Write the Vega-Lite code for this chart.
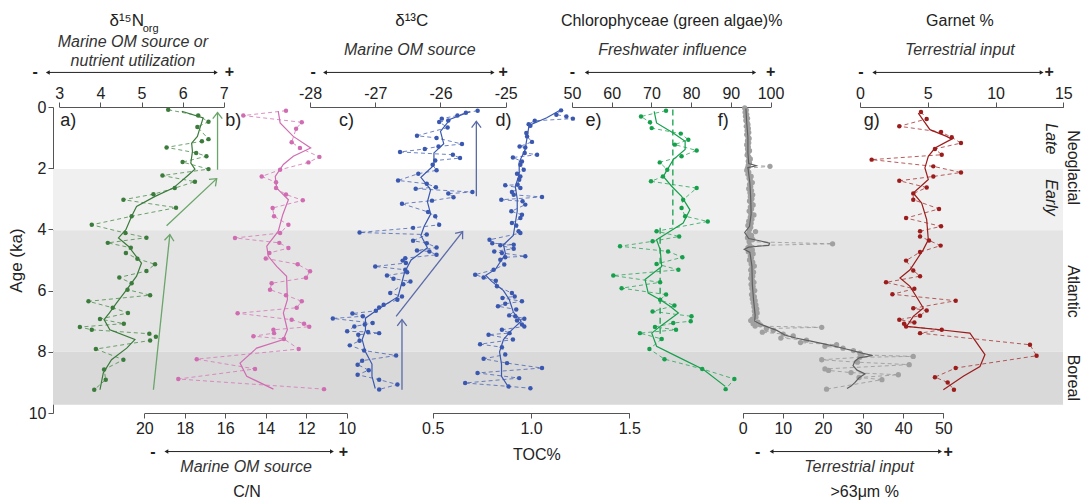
{
"$schema":"https://vega.github.io/schema/vega-lite/v6.json",
"width":1010,"height":306,
"autosize":{"type":"none"},
"padding":{"left":53,"top":107,"right":22,"bottom":87},
"background":"white",
"config":{"view":{"stroke":null},"font":"Liberation Sans",
 "axis":{"grid":false,"domainColor":"#555","tickColor":"#555","labelColor":"#222","labelFont":"Liberation Sans","labelFontSize":16,"tickSize":5,"labelFlush":false,"labelOverlap":false,"titleFont":"Liberation Sans","titleFontWeight":"normal","titleColor":"#222"},
 "axisTop":{"labelPadding":1},"axisBottom":{"labelPadding":2},
 "text":{"font":"Liberation Sans","fontSize":16,"baseline":"middle","align":"center","color":"#222"}},
"datasets":{
"one":[{"k":1}],
"zones":[{"zone":"early","start":2.03,"end":4.03},{"zone":"atlantic","start":4.03,"end":8.0},{"zone":"boreal","start":8.0,"end":9.73}],
"zlab":[{"name":"Neoglacial","mid":1.98},{"name":"Atlantic","mid":6.03},{"name":"Boreal","mid":8.85}],
"slab":[{"name":"Late","mid":1.04},{"name":"Early","mid":2.96}],
"n15":[{"age":0.09,"v":5.65},{"age":0.28,"v":6.38},{"age":0.48,"v":6.63},{"age":0.65,"v":6.36},{"age":1.05,"v":6.63},{"age":1.12,"v":6.47},{"age":1.32,"v":5.61},{"age":1.5,"v":6.33},{"age":1.61,"v":6.58},{"age":1.8,"v":6.0},{"age":2.03,"v":6.63},{"age":2.24,"v":5.51},{"age":2.44,"v":6.3},{"age":2.65,"v":5.81},{"age":2.85,"v":5.29},{"age":3.03,"v":4.56},{"age":3.29,"v":5.84},{"age":3.57,"v":4.76},{"age":3.85,"v":3.79},{"age":4.12,"v":4.61},{"age":4.27,"v":5.12},{"age":4.44,"v":4.18},{"age":4.6,"v":4.74},{"age":4.77,"v":4.62},{"age":4.96,"v":4.9},{"age":5.14,"v":5.33},{"age":5.36,"v":5.12},{"age":5.57,"v":4.46},{"age":5.76,"v":4.76},{"age":5.97,"v":4.66},{"age":6.15,"v":5.21},{"age":6.35,"v":3.71},{"age":6.56,"v":4.3},{"age":6.73,"v":4.67},{"age":6.93,"v":3.99},{"age":7.08,"v":4.57},{"age":7.19,"v":3.5},{"age":7.28,"v":3.79},{"age":7.41,"v":5.19},{"age":7.51,"v":5.35},{"age":7.63,"v":5.21},{"age":7.91,"v":3.89},{"age":8.26,"v":4.56},{"age":8.58,"v":4.09},{"age":8.91,"v":4.13},{"age":9.24,"v":3.85}],
"n15s":[{"age":0.14,"v":5.98},{"age":0.36,"v":6.5},{"age":0.74,"v":6.41},{"age":0.96,"v":6.36},{"age":1.18,"v":6.22},{"age":1.45,"v":6.24},{"age":1.83,"v":6.2},{"age":2.03,"v":6.3},{"age":2.27,"v":6.1},{"age":2.65,"v":5.77},{"age":2.92,"v":5.33},{"age":3.25,"v":4.88},{"age":3.57,"v":4.76},{"age":4.01,"v":4.62},{"age":4.28,"v":4.44},{"age":4.55,"v":4.68},{"age":4.88,"v":4.87},{"age":5.1,"v":5.0},{"age":5.53,"v":4.88},{"age":5.97,"v":4.64},{"age":6.41,"v":4.39},{"age":6.73,"v":4.22},{"age":6.95,"v":4.09},{"age":7.28,"v":4.23},{"age":7.6,"v":4.84},{"age":7.88,"v":4.64},{"age":8.26,"v":4.27},{"age":8.69,"v":4.07},{"age":9.24,"v":3.99}],
"n15arr":[{"id":1,"x1":5.29,"a1":9.24,"x2":5.69,"a2":4.17},{"id":2,"x1":5.61,"a1":3.88,"x2":6.83,"a2":2.34},{"id":3,"x1":6.85,"a1":2.05,"x2":6.85,"a2":0.18}],
"cn":[{"age":0.12,"v":13.0},{"age":0.28,"v":15.11},{"age":0.5,"v":12.22},{"age":0.71,"v":12.5},{"age":1.15,"v":12.72},{"age":1.34,"v":12.31},{"age":1.63,"v":11.35},{"age":1.81,"v":11.89},{"age":2.05,"v":13.29},{"age":2.27,"v":14.2},{"age":2.46,"v":13.49},{"age":2.65,"v":13.49},{"age":2.86,"v":13.0},{"age":3.05,"v":12.17},{"age":3.3,"v":13.66},{"age":3.57,"v":13.59},{"age":3.85,"v":12.88},{"age":4.12,"v":13.29},{"age":4.28,"v":15.52},{"age":4.44,"v":13.33},{"age":4.61,"v":12.88},{"age":4.77,"v":13.82},{"age":4.95,"v":14.0},{"age":5.14,"v":12.42},{"age":5.37,"v":11.81},{"age":5.58,"v":12.01},{"age":5.76,"v":13.71},{"age":5.97,"v":13.79},{"age":6.15,"v":13.0},{"age":6.35,"v":12.22},{"age":6.56,"v":12.47},{"age":6.74,"v":15.39},{"age":6.95,"v":12.72},{"age":7.08,"v":12.11},{"age":7.18,"v":11.85},{"age":7.28,"v":13.62},{"age":7.39,"v":13.59},{"age":7.49,"v":14.61},{"age":7.58,"v":13.1},{"age":7.91,"v":12.37},{"age":8.24,"v":17.41},{"age":8.56,"v":14.53},{"age":8.89,"v":18.32},{"age":9.22,"v":11.12}],
"cns":[{"age":0.14,"v":13.38},{"age":0.52,"v":13.29},{"age":0.96,"v":12.64},{"age":1.34,"v":11.78},{"age":1.61,"v":12.64},{"age":1.88,"v":13.13},{"age":2.27,"v":13.53},{"age":2.65,"v":13.46},{"age":3.03,"v":12.88},{"age":3.52,"v":13.16},{"age":4.06,"v":13.38},{"age":4.55,"v":13.95},{"age":4.88,"v":13.87},{"age":5.21,"v":13.46},{"age":5.53,"v":12.97},{"age":6.3,"v":12.93},{"age":6.73,"v":13.13},{"age":7.28,"v":12.93},{"age":7.6,"v":13.13},{"age":7.88,"v":14.45},{"age":8.37,"v":15.27},{"age":8.8,"v":14.94},{"age":9.22,"v":13.62}],
"c13":[{"age":0.12,"v":-25.43},{"age":0.19,"v":-25.61},{"age":0.28,"v":-25.74},{"age":0.38,"v":-25.98},{"age":0.44,"v":-25.88},{"age":0.49,"v":-26.02},{"age":0.67,"v":-25.89},{"age":0.94,"v":-26.36},{"age":1.01,"v":-26.06},{"age":1.21,"v":-25.67},{"age":1.29,"v":-26.03},{"age":1.37,"v":-26.24},{"age":1.47,"v":-26.62},{"age":1.56,"v":-25.81},{"age":1.67,"v":-25.7},{"age":1.75,"v":-26.08},{"age":1.89,"v":-26.12},{"age":2.07,"v":-26.06},{"age":2.18,"v":-26.34},{"age":2.4,"v":-26.65},{"age":2.51,"v":-26.21},{"age":2.62,"v":-26.07},{"age":2.67,"v":-26.38},{"age":2.78,"v":-25.51},{"age":2.83,"v":-25.88},{"age":2.95,"v":-25.8},{"age":3.06,"v":-26.13},{"age":3.16,"v":-26.59},{"age":3.43,"v":-26.19},{"age":3.57,"v":-26.08},{"age":3.85,"v":-26.02},{"age":3.95,"v":-26.42},{"age":4.1,"v":-27.24},{"age":4.17,"v":-26.21},{"age":4.37,"v":-26.42},{"age":4.45,"v":-26.21},{"age":4.59,"v":-26.06},{"age":4.69,"v":-26.36},{"age":4.72,"v":-26.17},{"age":4.83,"v":-26.06},{"age":4.94,"v":-26.54},{"age":5.02,"v":-26.58},{"age":5.1,"v":-26.53},{"age":5.21,"v":-27.0},{"age":5.32,"v":-26.54},{"age":5.4,"v":-26.51},{"age":5.51,"v":-26.82},{"age":5.61,"v":-26.72},{"age":5.7,"v":-26.46},{"age":5.79,"v":-26.57},{"age":6.08,"v":-26.77},{"age":6.19,"v":-26.59},{"age":6.3,"v":-26.66},{"age":6.46,"v":-26.87},{"age":6.55,"v":-26.94},{"age":6.66,"v":-26.99},{"age":6.75,"v":-27.35},{"age":6.84,"v":-27.19},{"age":6.91,"v":-27.65},{"age":7.06,"v":-27.04},{"age":7.11,"v":-27.16},{"age":7.17,"v":-27.32},{"age":7.33,"v":-27.43},{"age":7.35,"v":-27.11},{"age":7.39,"v":-26.94},{"age":7.44,"v":-27.26},{"age":7.64,"v":-27.24},{"age":7.79,"v":-27.39},{"age":7.96,"v":-27.17},{"age":8.12,"v":-26.68},{"age":8.29,"v":-27.2},{"age":8.42,"v":-27.27},{"age":8.6,"v":-27.1},{"age":8.75,"v":-27.27},{"age":8.91,"v":-26.94},{"age":9.07,"v":-26.66},{"age":9.23,"v":-26.94}],
"c13s":[{"age":0.15,"v":-25.55},{"age":0.4,"v":-25.85},{"age":0.8,"v":-26.0},{"age":1.2,"v":-25.95},{"age":1.5,"v":-26.1},{"age":1.9,"v":-26.1},{"age":2.3,"v":-26.3},{"age":2.7,"v":-26.15},{"age":3.1,"v":-26.2},{"age":3.5,"v":-26.15},{"age":3.9,"v":-26.25},{"age":4.2,"v":-26.3},{"age":4.6,"v":-26.2},{"age":5.0,"v":-26.45},{"age":5.4,"v":-26.55},{"age":5.8,"v":-26.6},{"age":6.2,"v":-26.65},{"age":6.6,"v":-26.95},{"age":6.9,"v":-27.15},{"age":7.3,"v":-27.15},{"age":7.6,"v":-27.2},{"age":8.0,"v":-27.15},{"age":8.4,"v":-27.05},{"age":8.8,"v":-27.05},{"age":9.2,"v":-27.0}],
"c13arr":[{"id":1,"x1":-26.59,"a1":9.24,"x2":-26.59,"a2":6.95},{"id":2,"x1":-26.68,"a1":6.84,"x2":-25.66,"a2":4.07},{"id":3,"x1":-25.45,"a1":2.92,"x2":-25.45,"a2":0.47}],
"toc":[{"age":0.11,"v":1.153},{"age":0.25,"v":1.129},{"age":0.31,"v":1.18},{"age":0.38,"v":1.213},{"age":0.45,"v":1.019},{"age":0.56,"v":0.988},{"age":0.61,"v":0.997},{"age":0.85,"v":0.976},{"age":0.96,"v":0.98},{"age":1.14,"v":1.005},{"age":1.29,"v":0.942},{"age":1.32,"v":0.971},{"age":1.5,"v":0.968},{"age":1.56,"v":1.031},{"age":1.65,"v":0.908},{"age":1.78,"v":0.954},{"age":1.89,"v":0.946},{"age":2.05,"v":0.963},{"age":2.18,"v":0.929},{"age":2.27,"v":0.946},{"age":2.38,"v":0.94},{"age":2.54,"v":0.932},{"age":2.56,"v":0.869},{"age":2.65,"v":0.946},{"age":2.78,"v":0.903},{"age":2.87,"v":0.912},{"age":2.94,"v":1.056},{"age":3.03,"v":0.849},{"age":3.08,"v":0.957},{"age":3.19,"v":0.971},{"age":3.41,"v":0.9},{"age":3.52,"v":0.954},{"age":3.63,"v":0.946},{"age":3.79,"v":0.903},{"age":3.87,"v":0.925},{"age":4.06,"v":0.937},{"age":4.12,"v":0.946},{"age":4.34,"v":0.789},{"age":4.45,"v":0.803},{"age":4.5,"v":0.912},{"age":4.52,"v":0.844},{"age":4.63,"v":0.912},{"age":4.72,"v":0.813},{"age":4.77,"v":0.852},{"age":4.88,"v":0.971},{"age":4.91,"v":0.869},{"age":4.99,"v":0.844},{"age":5.15,"v":0.864},{"age":5.32,"v":0.81},{"age":5.48,"v":0.716},{"age":5.57,"v":0.759},{"age":5.68,"v":0.821},{"age":5.86,"v":0.827},{"age":6.08,"v":0.903},{"age":6.19,"v":0.917},{"age":6.24,"v":0.855},{"age":6.35,"v":0.954},{"age":6.43,"v":0.869},{"age":6.51,"v":0.832},{"age":6.62,"v":0.925},{"age":6.81,"v":0.889},{"age":6.84,"v":0.92},{"age":6.92,"v":0.966},{"age":6.98,"v":0.929},{"age":7.11,"v":0.954},{"age":7.17,"v":0.966},{"age":7.28,"v":0.852},{"age":7.39,"v":0.891},{"age":7.44,"v":0.784},{"age":7.6,"v":0.908},{"age":7.75,"v":0.741},{"age":7.85,"v":0.852},{"age":8.09,"v":0.869},{"age":8.23,"v":0.759},{"age":8.37,"v":0.878},{"age":8.53,"v":1.056},{"age":8.69,"v":0.728},{"age":8.86,"v":0.94},{"age":9.02,"v":0.665},{"age":9.13,"v":0.886},{"age":9.19,"v":0.997}],
"tocs":[{"age":0.1,"v":1.15},{"age":0.35,"v":1.08},{"age":0.6,"v":0.99},{"age":1.0,"v":0.98},{"age":1.4,"v":0.97},{"age":1.8,"v":0.94},{"age":2.2,"v":0.94},{"age":2.6,"v":0.92},{"age":3.0,"v":0.93},{"age":3.4,"v":0.93},{"age":3.8,"v":0.92},{"age":4.2,"v":0.91},{"age":4.5,"v":0.86},{"age":4.8,"v":0.87},{"age":5.0,"v":0.85},{"age":5.3,"v":0.82},{"age":5.5,"v":0.77},{"age":5.7,"v":0.8},{"age":6.0,"v":0.86},{"age":6.3,"v":0.89},{"age":6.7,"v":0.91},{"age":7.0,"v":0.95},{"age":7.3,"v":0.9},{"age":7.6,"v":0.86},{"age":8.0,"v":0.84},{"age":8.4,"v":0.85},{"age":8.8,"v":0.85},{"age":9.2,"v":0.89}],
"chl":[{"age":0.12,"v":73.68},{"age":0.31,"v":67.38},{"age":0.5,"v":69.65},{"age":0.69,"v":70.07},{"age":0.87,"v":77.4},{"age":1.07,"v":79.3},{"age":1.23,"v":75.9},{"age":1.42,"v":81.4},{"age":1.61,"v":77.6},{"age":1.81,"v":72.1},{"age":2.05,"v":74.0},{"age":2.27,"v":72.9},{"age":2.43,"v":69.9},{"age":2.65,"v":81.4},{"age":3.03,"v":78.0},{"age":3.3,"v":77.6},{"age":3.57,"v":78.5},{"age":3.74,"v":84.2},{"age":4.06,"v":71.3},{"age":4.23,"v":77.0},{"age":4.39,"v":70.3},{"age":4.55,"v":62.1},{"age":4.72,"v":74.2},{"age":4.91,"v":77.8},{"age":5.13,"v":71.3},{"age":5.32,"v":76.8},{"age":5.51,"v":60.4},{"age":5.73,"v":72.2},{"age":5.92,"v":62.5},{"age":6.13,"v":73.7},{"age":6.3,"v":72.2},{"age":6.49,"v":75.8},{"age":6.68,"v":70.3},{"age":6.84,"v":80.1},{"age":7.0,"v":79.9},{"age":7.06,"v":75.5},{"age":7.19,"v":70.9},{"age":7.28,"v":76.2},{"age":7.39,"v":67.1},{"age":7.58,"v":72.6},{"age":7.91,"v":69.5},{"age":8.24,"v":73.3},{"age":8.56,"v":82.8},{"age":8.89,"v":90.9},{"age":9.22,"v":88.7}],
"chls":[{"age":0.14,"v":70.7},{"age":0.52,"v":71.3},{"age":0.85,"v":75.5},{"age":1.12,"v":78.5},{"age":1.39,"v":78.5},{"age":1.72,"v":75.5},{"age":2.27,"v":73.0},{"age":2.59,"v":75.1},{"age":2.92,"v":77.6},{"age":3.36,"v":79.7},{"age":3.79,"v":78.0},{"age":4.06,"v":74.7},{"age":4.34,"v":71.3},{"age":4.66,"v":72.2},{"age":5.21,"v":72.6},{"age":5.64,"v":68.4},{"age":6.08,"v":69.2},{"age":6.3,"v":72.2},{"age":6.51,"v":74.7},{"age":6.73,"v":76.8},{"age":7.17,"v":72.2},{"age":7.39,"v":70.1},{"age":7.82,"v":71.3},{"age":8.15,"v":76.4},{"age":8.58,"v":83.1},{"age":9.13,"v":88.6}],
"chlmean":[{"v":75.4,"a1":0.08,"a2":3.85},{"v":72.2,"a1":3.95,"a2":7.6}],
"sand":[{"age":0.03,"v":0.5},{"age":0.1,"v":0.9},{"age":0.17,"v":0.6},{"age":0.24,"v":1.0},{"age":0.3,"v":0.7},{"age":0.37,"v":1.2},{"age":0.44,"v":0.8},{"age":0.5,"v":1.1},{"age":0.57,"v":1.3},{"age":0.63,"v":0.9},{"age":0.7,"v":1.4},{"age":0.77,"v":1.1},{"age":0.83,"v":1.5},{"age":0.9,"v":1.0},{"age":0.97,"v":1.3},{"age":1.03,"v":1.6},{"age":1.1,"v":1.2},{"age":1.17,"v":1.5},{"age":1.23,"v":1.0},{"age":1.3,"v":1.4},{"age":1.37,"v":1.2},{"age":1.43,"v":1.7},{"age":1.5,"v":1.3},{"age":1.57,"v":1.1},{"age":1.63,"v":1.5},{"age":1.7,"v":1.9},{"age":1.77,"v":1.4},{"age":1.83,"v":1.7},{"age":1.9,"v":1.4},{"age":1.94,"v":6.8},{"age":2.0,"v":1.2},{"age":2.07,"v":1.0},{"age":2.13,"v":1.5},{"age":2.2,"v":1.3},{"age":2.27,"v":2.1},{"age":2.33,"v":1.6},{"age":2.4,"v":1.9},{"age":2.47,"v":2.4},{"age":2.53,"v":1.7},{"age":2.6,"v":2.0},{"age":2.67,"v":1.5},{"age":2.73,"v":2.2},{"age":2.8,"v":1.8},{"age":2.87,"v":2.5},{"age":2.93,"v":1.9},{"age":3.0,"v":2.3},{"age":3.07,"v":1.7},{"age":3.13,"v":2.1},{"age":3.2,"v":2.6},{"age":3.27,"v":1.9},{"age":3.33,"v":2.2},{"age":3.4,"v":1.6},{"age":3.47,"v":2.0},{"age":3.53,"v":2.8},{"age":3.6,"v":1.9},{"age":3.67,"v":2.3},{"age":3.73,"v":1.5},{"age":3.8,"v":2.1},{"age":3.87,"v":1.3},{"age":3.93,"v":2.0},{"age":4.0,"v":1.7},{"age":4.07,"v":3.2},{"age":4.13,"v":1.5},{"age":4.2,"v":2.2},{"age":4.27,"v":1.2},{"age":4.33,"v":2.5},{"age":4.4,"v":1.6},{"age":4.47,"v":22.4},{"age":4.53,"v":1.8},{"age":4.6,"v":1.3},{"age":4.67,"v":2.4},{"age":4.73,"v":1.4},{"age":4.8,"v":2.6},{"age":4.87,"v":1.9},{"age":4.93,"v":2.2},{"age":5.0,"v":1.7},{"age":5.07,"v":2.5},{"age":5.13,"v":2.1},{"age":5.2,"v":2.9},{"age":5.27,"v":2.3},{"age":5.33,"v":2.0},{"age":5.4,"v":2.7},{"age":5.47,"v":2.2},{"age":5.53,"v":2.5},{"age":5.6,"v":2.0},{"age":5.67,"v":2.4},{"age":5.73,"v":2.8},{"age":5.8,"v":2.1},{"age":5.87,"v":2.6},{"age":5.93,"v":2.3},{"age":6.0,"v":3.0},{"age":6.07,"v":2.5},{"age":6.13,"v":2.2},{"age":6.2,"v":2.9},{"age":6.27,"v":2.4},{"age":6.33,"v":3.1},{"age":6.4,"v":2.6},{"age":6.47,"v":3.3},{"age":6.53,"v":2.8},{"age":6.6,"v":3.5},{"age":6.67,"v":2.9},{"age":6.73,"v":3.6},{"age":6.8,"v":3.0},{"age":6.87,"v":3.3},{"age":6.93,"v":2.4},{"age":6.98,"v":2.0},{"age":7.03,"v":3.8},{"age":7.08,"v":2.6},{"age":7.12,"v":4.4},{"age":7.16,"v":3.1},{"age":7.2,"v":19.7},{"age":7.24,"v":5.9},{"age":7.3,"v":7.6},{"age":7.36,"v":4.9},{"age":7.42,"v":10.1},{"age":7.48,"v":12.6},{"age":7.55,"v":9.5},{"age":7.62,"v":15.9},{"age":7.7,"v":14.4},{"age":7.77,"v":23.4},{"age":7.82,"v":20.5},{"age":7.88,"v":25.0},{"age":7.96,"v":27.6},{"age":8.04,"v":29.2},{"age":8.1,"v":29.6},{"age":8.15,"v":42.5},{"age":8.18,"v":29.2},{"age":8.26,"v":19.7},{"age":8.34,"v":28.6},{"age":8.42,"v":41.5},{"age":8.56,"v":20.5},{"age":8.61,"v":21.4},{"age":8.68,"v":27.0},{"age":8.75,"v":38.8},{"age":8.84,"v":29.0},{"age":8.91,"v":34.7},{"age":9.22,"v":20.9}],
"sands":[{"age":0.05,"v":0.8},{"age":0.5,"v":1.0},{"age":1.0,"v":1.3},{"age":1.5,"v":1.3},{"age":1.85,"v":1.5},{"age":1.92,"v":3.5},{"age":1.98,"v":1.3},{"age":2.5,"v":1.8},{"age":3.0,"v":2.0},{"age":3.5,"v":2.1},{"age":3.9,"v":1.7},{"age":4.1,"v":0.5},{"age":4.3,"v":1.5},{"age":4.38,"v":4.5},{"age":4.45,"v":6.7},{"age":4.52,"v":6.5},{"age":4.58,"v":1.5},{"age":4.65,"v":0.4},{"age":4.75,"v":1.8},{"age":5.2,"v":2.3},{"age":5.8,"v":2.4},{"age":6.3,"v":2.7},{"age":6.8,"v":3.1},{"age":7.0,"v":3.0},{"age":7.1,"v":4.5},{"age":7.2,"v":6.5},{"age":7.3,"v":8.5},{"age":7.45,"v":10.5},{"age":7.55,"v":13.2},{"age":7.65,"v":17.0},{"age":7.75,"v":20.5},{"age":7.85,"v":24.0},{"age":7.95,"v":27.0},{"age":8.05,"v":30.0},{"age":8.12,"v":32.4},{"age":8.2,"v":29.0},{"age":8.3,"v":28.0},{"age":8.45,"v":27.5},{"age":8.6,"v":28.5},{"age":8.72,"v":30.5},{"age":8.85,"v":29.0},{"age":9.0,"v":28.0},{"age":9.12,"v":27.0},{"age":9.2,"v":26.0}],
"gar":[{"age":0.16,"v":4.5},{"age":0.39,"v":4.92},{"age":0.63,"v":2.9},{"age":0.82,"v":5.98},{"age":0.99,"v":6.77},{"age":1.18,"v":7.45},{"age":1.37,"v":5.53},{"age":1.56,"v":6.03},{"age":1.72,"v":0.86},{"age":1.94,"v":5.41},{"age":2.14,"v":7.45},{"age":2.27,"v":5.41},{"age":2.41,"v":2.9},{"age":2.63,"v":4.92},{"age":2.83,"v":3.93},{"age":3.03,"v":3.93},{"age":3.33,"v":5.83},{"age":3.63,"v":3.4},{"age":3.9,"v":5.98},{"age":4.06,"v":4.43},{"age":4.23,"v":4.43},{"age":4.36,"v":5.09},{"age":4.53,"v":5.95},{"age":4.74,"v":4.43},{"age":5.02,"v":3.4},{"age":5.34,"v":3.93},{"age":5.53,"v":4.43},{"age":5.73,"v":1.92},{"age":5.94,"v":4.01},{"age":6.12,"v":2.39},{"age":6.33,"v":7.06},{"age":6.58,"v":3.93},{"age":6.65,"v":4.92},{"age":6.82,"v":4.43},{"age":6.95,"v":2.9},{"age":7.04,"v":4.01},{"age":7.08,"v":3.25},{"age":7.17,"v":3.4},{"age":7.28,"v":6.03},{"age":7.39,"v":4.43},{"age":7.77,"v":12.54},{"age":8.13,"v":13.03},{"age":8.53,"v":7.06},{"age":8.83,"v":5.53},{"age":9.0,"v":6.47},{"age":9.24,"v":6.93}],
"gars":[{"age":0.2,"v":4.3},{"age":0.74,"v":5.16},{"age":0.96,"v":6.39},{"age":1.05,"v":6.76},{"age":1.34,"v":5.53},{"age":1.61,"v":5.04},{"age":1.99,"v":4.79},{"age":2.37,"v":5.04},{"age":2.81,"v":3.93},{"age":3.14,"v":4.55},{"age":3.68,"v":4.92},{"age":4.34,"v":5.04},{"age":4.66,"v":4.67},{"age":5.32,"v":3.69},{"age":5.59,"v":2.95},{"age":5.86,"v":3.69},{"age":6.3,"v":4.3},{"age":6.57,"v":4.67},{"age":6.84,"v":3.93},{"age":7.17,"v":3.44},{"age":7.28,"v":5.9},{"age":7.39,"v":8.11},{"age":8.09,"v":9.22},{"age":8.48,"v":8.85},{"age":8.8,"v":7.62},{"age":9.24,"v":6.15}]
},
"resolve":{"scale":{"x":"independent"},"axis":{"x":"independent"}},
"layer":[
{"data":{"name":"zones"},"mark":{"type":"rect"},
 "encoding":{"y":{"field":"start","type":"quantitative","scale":{"domain":[0,10],"reverse":true,"nice":false,"zero":false},
   "axis":{"orient":"left","values":[0,2,4,6,8,10],"title":"Age (ka)","titlePadding":3,"labelPadding":2,"titleFontSize":17}},
  "y2":{"field":"end"},
  "color":{"field":"zone","type":"nominal","scale":{"domain":["early","atlantic","boreal"],"range":["#f0f0f0","#e4e4e4","#d9d9d9"]},"legend":null}}},

{"layer":[
 {"data":{"name":"n15"},"mark":{"type":"line","strokeDash":[4,3],"strokeWidth":1,"color":"#4a8c4a","opacity":0.8},
  "encoding":{"x":{"field":"v","type":"quantitative","scale":{"domain":[3,7],"range":[6.3,170.7],"nice":false,"zero":false},"axis":{"orient":"top","values":[3,4,5,6,7],"labelExpr":"datum.value + ''","title":null}},
   "y":{"field":"age","type":"quantitative"},"order":{"field":"age","type":"quantitative"}}},
 {"data":{"name":"n15s"},"mark":{"type":"line","strokeWidth":1.2,"color":"#3b7b3b"},
  "encoding":{"x":{"field":"v","type":"quantitative"},"y":{"field":"age","type":"quantitative"},"order":{"field":"age","type":"quantitative"}}},
 {"data":{"name":"n15"},"mark":{"type":"point","filled":true,"size":20,"color":"#3b7b3b","opacity":1},
  "encoding":{"x":{"field":"v","type":"quantitative"},"y":{"field":"age","type":"quantitative"}}},
 {"data":{"name":"n15arr"},"mark":{"type":"rule","color":"#6aa56a","strokeWidth":1.3},
  "encoding":{"x":{"field":"x1","type":"quantitative"},"x2":{"field":"x2"},"y":{"field":"a1","type":"quantitative"},"y2":{"field":"a2"}}},
 {"data":{"name":"n15arr"},"transform":[{"filter":"datum.id==1"}],"mark":{"type":"point","shape":"M-1,1.3L0,0L1,1.3","filled":false,"size":90,"strokeWidth":1.3,"color":"#6aa56a","angle":6,"opacity":1},
  "encoding":{"x":{"field":"x2","type":"quantitative"},"y":{"field":"a2","type":"quantitative"}}},
 {"data":{"name":"n15arr"},"transform":[{"filter":"datum.id==2"}],"mark":{"type":"point","shape":"M-1,1.3L0,0L1,1.3","filled":false,"size":90,"strokeWidth":1.3,"color":"#6aa56a","angle":47,"opacity":1},
  "encoding":{"x":{"field":"x2","type":"quantitative"},"y":{"field":"a2","type":"quantitative"}}},
 {"data":{"name":"n15arr"},"transform":[{"filter":"datum.id==3"}],"mark":{"type":"point","shape":"M-1,1.3L0,0L1,1.3","filled":false,"size":90,"strokeWidth":1.3,"color":"#6aa56a","angle":0,"opacity":1},
  "encoding":{"x":{"field":"x2","type":"quantitative"},"y":{"field":"a2","type":"quantitative"}}},
 {"data":{"name":"one"},"mark":{"type":"text","text":"a)","fontSize":18},"encoding":{"x":{"datum":3.22},"y":{"datum":0.47}}},
 {"data":{"name":"one"},"mark":{"type":"text","text":"δ¹⁵N","fontSize":17},"encoding":{"x":{"datum":4.64},"y":{"datum":-2.8}}},
 {"data":{"name":"one"},"mark":{"type":"text","text":"org","fontSize":11,"align":"left"},"encoding":{"x":{"datum":5.03},"y":{"datum":-2.55}}},
 {"data":{"name":"one"},"mark":{"type":"text","text":"Marine OM source or","fontSize":16,"fontStyle":"italic","color":"#333"},"encoding":{"x":{"datum":4.79},"y":{"datum":-2.11}}},
 {"data":{"name":"one"},"mark":{"type":"text","text":"nutrient utilization","fontSize":16,"fontStyle":"italic","color":"#333"},"encoding":{"x":{"datum":4.79},"y":{"datum":-1.49}}},
 {"data":{"name":"one"},"mark":{"type":"rule","color":"#222","strokeWidth":1},"encoding":{"x":{"datum":2.72},"x2":{"datum":6.81},"y":{"datum":-1.13}}},
 {"data":{"name":"one"},"mark":{"type":"point","shape":"triangle-left","filled":true,"size":20,"color":"#222","opacity":1},"encoding":{"x":{"datum":2.72},"y":{"datum":-1.13}}},
 {"data":{"name":"one"},"mark":{"type":"point","shape":"triangle-right","filled":true,"size":20,"color":"#222","opacity":1},"encoding":{"x":{"datum":6.81},"y":{"datum":-1.13}}},
 {"data":{"name":"one"},"mark":{"type":"text","text":"-","fontWeight":"bold"},"encoding":{"x":{"datum":2.41},"y":{"datum":-1.13}}},
 {"data":{"name":"one"},"mark":{"type":"text","text":"+","fontWeight":"bold"},"encoding":{"x":{"datum":7.14},"y":{"datum":-1.13}}}
]},

{"layer":[
 {"data":{"name":"cn"},"mark":{"type":"line","strokeDash":[4,3],"strokeWidth":1,"color":"#d67bb8","opacity":0.85},
  "encoding":{"x":{"field":"v","type":"quantitative","scale":{"domain":[10,20],"range":[293.7,91.3],"nice":false,"zero":false},"axis":{"orient":"bottom","values":[10,12,14,16,18,20],"labelExpr":"datum.value + ''","title":null}},
   "y":{"field":"age","type":"quantitative"},"order":{"field":"age","type":"quantitative"}}},
 {"data":{"name":"cns"},"mark":{"type":"line","strokeWidth":1.2,"color":"#d06cb2"},
  "encoding":{"x":{"field":"v","type":"quantitative"},"y":{"field":"age","type":"quantitative"},"order":{"field":"age","type":"quantitative"}}},
 {"data":{"name":"cn"},"mark":{"type":"point","filled":true,"size":20,"color":"#d06cb2","opacity":1},
  "encoding":{"x":{"field":"v","type":"quantitative"},"y":{"field":"age","type":"quantitative"}}},
 {"data":{"name":"one"},"mark":{"type":"text","text":"b)","fontSize":18},"encoding":{"x":{"datum":15.6},"y":{"datum":0.47}}},
 {"data":{"name":"one"},"mark":{"type":"rule","color":"#222","strokeWidth":1},"encoding":{"x":{"datum":18.91},"x2":{"datum":10.73},"y":{"datum":11.26}}},
 {"data":{"name":"one"},"mark":{"type":"point","shape":"triangle-left","filled":true,"size":20,"color":"#222","opacity":1},"encoding":{"x":{"datum":18.91},"y":{"datum":11.26}}},
 {"data":{"name":"one"},"mark":{"type":"point","shape":"triangle-right","filled":true,"size":20,"color":"#222","opacity":1},"encoding":{"x":{"datum":10.73},"y":{"datum":11.26}}},
 {"data":{"name":"one"},"mark":{"type":"text","text":"-","fontWeight":"bold"},"encoding":{"x":{"datum":19.58},"y":{"datum":11.26}}},
 {"data":{"name":"one"},"mark":{"type":"text","text":"+","fontWeight":"bold"},"encoding":{"x":{"datum":10.16},"y":{"datum":11.26}}},
 {"data":{"name":"one"},"mark":{"type":"text","text":"Marine OM source","fontSize":16,"fontStyle":"italic","color":"#333"},"encoding":{"x":{"datum":14.97},"y":{"datum":11.75}}},
 {"data":{"name":"one"},"mark":{"type":"text","text":"C/N","fontSize":16},"encoding":{"x":{"datum":14.93},"y":{"datum":12.57}}}
]},

{"layer":[
 {"data":{"name":"c13"},"mark":{"type":"line","strokeDash":[4,3],"strokeWidth":1,"color":"#4a64b4","opacity":0.8},
  "encoding":{"x":{"field":"v","type":"quantitative","scale":{"domain":[-28,-25],"range":[257,452.7],"nice":false,"zero":false},"axis":{"orient":"top","values":[-28,-27,-26,-25],"labelExpr":"datum.value + ''","title":null}},
   "y":{"field":"age","type":"quantitative"},"order":{"field":"age","type":"quantitative"}}},
 {"data":{"name":"c13s"},"mark":{"type":"line","strokeWidth":1.2,"color":"#3a58b0"},
  "encoding":{"x":{"field":"v","type":"quantitative"},"y":{"field":"age","type":"quantitative"},"order":{"field":"age","type":"quantitative"}}},
 {"data":{"name":"c13"},"mark":{"type":"point","filled":true,"size":20,"color":"#3a58b0","opacity":1},
  "encoding":{"x":{"field":"v","type":"quantitative"},"y":{"field":"age","type":"quantitative"}}},
 {"data":{"name":"c13arr"},"mark":{"type":"rule","color":"#5a6aa8","strokeWidth":1.3},
  "encoding":{"x":{"field":"x1","type":"quantitative"},"x2":{"field":"x2"},"y":{"field":"a1","type":"quantitative"},"y2":{"field":"a2"}}},
 {"data":{"name":"c13arr"},"transform":[{"filter":"datum.id!=2"}],"mark":{"type":"point","shape":"M-1,1.3L0,0L1,1.3","filled":false,"size":90,"strokeWidth":1.3,"color":"#5a6aa8","angle":0,"opacity":1},
  "encoding":{"x":{"field":"x2","type":"quantitative"},"y":{"field":"a2","type":"quantitative"}}},
 {"data":{"name":"c13arr"},"transform":[{"filter":"datum.id==2"}],"mark":{"type":"point","shape":"M-1,1.3L0,0L1,1.3","filled":false,"size":90,"strokeWidth":1.3,"color":"#5a6aa8","angle":38,"opacity":1},
  "encoding":{"x":{"field":"x2","type":"quantitative"},"y":{"field":"a2","type":"quantitative"}}},
 {"data":{"name":"one"},"mark":{"type":"text","text":"c)","fontSize":18},"encoding":{"x":{"datum":-27.44},"y":{"datum":0.47}}},
 {"data":{"name":"one"},"mark":{"type":"text","text":"δ¹³C","fontSize":17},"encoding":{"x":{"datum":-26.44},"y":{"datum":-2.8}}},
 {"data":{"name":"one"},"mark":{"type":"text","text":"Marine OM source","fontSize":16,"fontStyle":"italic","color":"#333"},"encoding":{"x":{"datum":-26.47},"y":{"datum":-1.85}}},
 {"data":{"name":"one"},"mark":{"type":"rule","color":"#222","strokeWidth":1},"encoding":{"x":{"datum":-27.77},"x2":{"datum":-25.2},"y":{"datum":-1.13}}},
 {"data":{"name":"one"},"mark":{"type":"point","shape":"triangle-left","filled":true,"size":20,"color":"#222","opacity":1},"encoding":{"x":{"datum":-27.77},"y":{"datum":-1.13}}},
 {"data":{"name":"one"},"mark":{"type":"point","shape":"triangle-right","filled":true,"size":20,"color":"#222","opacity":1},"encoding":{"x":{"datum":-25.2},"y":{"datum":-1.13}}},
 {"data":{"name":"one"},"mark":{"type":"text","text":"-","fontWeight":"bold"},"encoding":{"x":{"datum":-27.95},"y":{"datum":-1.13}}},
 {"data":{"name":"one"},"mark":{"type":"text","text":"+","fontWeight":"bold"},"encoding":{"x":{"datum":-25.04},"y":{"datum":-1.13}}}
]},

{"layer":[
 {"data":{"name":"toc"},"mark":{"type":"line","strokeDash":[4,3],"strokeWidth":1,"color":"#4a64b4","opacity":0.8},
  "encoding":{"x":{"field":"v","type":"quantitative","scale":{"domain":[0.5,1.5],"range":[379.7,576.3],"nice":false,"zero":false},"axis":{"orient":"bottom","values":[0.5,1.0,1.5],"format":".1f","title":null}},
   "y":{"field":"age","type":"quantitative"},"order":{"field":"age","type":"quantitative"}}},
 {"data":{"name":"tocs"},"mark":{"type":"line","strokeWidth":1.2,"color":"#3a58b0"},
  "encoding":{"x":{"field":"v","type":"quantitative"},"y":{"field":"age","type":"quantitative"},"order":{"field":"age","type":"quantitative"}}},
 {"data":{"name":"toc"},"mark":{"type":"point","filled":true,"size":20,"color":"#3a58b0","opacity":1},
  "encoding":{"x":{"field":"v","type":"quantitative"},"y":{"field":"age","type":"quantitative"}}},
 {"data":{"name":"one"},"mark":{"type":"text","text":"d)","fontSize":18},"encoding":{"x":{"datum":0.86},"y":{"datum":0.47}}},
 {"data":{"name":"one"},"mark":{"type":"text","text":"TOC%","fontSize":16},"encoding":{"x":{"datum":1.03},"y":{"datum":11.36}}}
]},

{"layer":[
 {"data":{"name":"chl"},"mark":{"type":"line","strokeDash":[4,3],"strokeWidth":1,"color":"#2aa55a","opacity":0.8},
  "encoding":{"x":{"field":"v","type":"quantitative","scale":{"domain":[50,100],"range":[519,717.5],"nice":false,"zero":false},"axis":{"orient":"top","values":[50,60,70,80,90,100],"labelExpr":"datum.value + ''","title":null}},
   "y":{"field":"age","type":"quantitative"},"order":{"field":"age","type":"quantitative"}}},
 {"data":{"name":"chlmean"},"mark":{"type":"rule","color":"#16a04c","strokeWidth":1.3,"strokeDash":[6,4]},
  "encoding":{"x":{"field":"v","type":"quantitative"},"y":{"field":"a1","type":"quantitative"},"y2":{"field":"a2"}}},
 {"data":{"name":"chls"},"mark":{"type":"line","strokeWidth":1.2,"color":"#16a04c"},
  "encoding":{"x":{"field":"v","type":"quantitative"},"y":{"field":"age","type":"quantitative"},"order":{"field":"age","type":"quantitative"}}},
 {"data":{"name":"chl"},"mark":{"type":"point","filled":true,"size":20,"color":"#16a04c","opacity":1},
  "encoding":{"x":{"field":"v","type":"quantitative"},"y":{"field":"age","type":"quantitative"}}},
 {"data":{"name":"one"},"mark":{"type":"text","text":"e)","fontSize":18},"encoding":{"x":{"datum":55.4},"y":{"datum":0.47}}},
 {"data":{"name":"one"},"mark":{"type":"text","text":"Chlorophyceae (green algae)%","fontSize":16},"encoding":{"x":{"datum":75.1},"y":{"datum":-2.8}}},
 {"data":{"name":"one"},"mark":{"type":"text","text":"Freshwater influence","fontSize":16,"fontStyle":"italic","color":"#333"},"encoding":{"x":{"datum":75.3},"y":{"datum":-1.85}}},
 {"data":{"name":"one"},"mark":{"type":"rule","color":"#222","strokeWidth":1},"encoding":{"x":{"datum":53.7},"x2":{"datum":95.9},"y":{"datum":-1.13}}},
 {"data":{"name":"one"},"mark":{"type":"point","shape":"triangle-left","filled":true,"size":20,"color":"#222","opacity":1},"encoding":{"x":{"datum":53.7},"y":{"datum":-1.13}}},
 {"data":{"name":"one"},"mark":{"type":"point","shape":"triangle-right","filled":true,"size":20,"color":"#222","opacity":1},"encoding":{"x":{"datum":95.9},"y":{"datum":-1.13}}},
 {"data":{"name":"one"},"mark":{"type":"text","text":"-","fontWeight":"bold"},"encoding":{"x":{"datum":50.1},"y":{"datum":-1.13}}},
 {"data":{"name":"one"},"mark":{"type":"text","text":"+","fontWeight":"bold"},"encoding":{"x":{"datum":100.05},"y":{"datum":-1.13}}}
]},

{"layer":[
 {"data":{"name":"sand"},"mark":{"type":"line","strokeDash":[4,3],"strokeWidth":1,"color":"#9a9a9a","opacity":0.85},
  "encoding":{"x":{"field":"v","type":"quantitative","scale":{"domain":[0,50],"range":[689.7,890.3],"nice":false,"zero":false},"axis":{"orient":"bottom","values":[0,10,20,30,40,50],"labelExpr":"datum.value + ''","title":null}},
   "y":{"field":"age","type":"quantitative"},"order":{"field":"age","type":"quantitative"}}},
 {"data":{"name":"sand"},"mark":{"type":"point","filled":true,"size":28,"color":"#a0a0a0","opacity":1},
  "encoding":{"x":{"field":"v","type":"quantitative"},"y":{"field":"age","type":"quantitative"}}},
 {"data":{"name":"sands"},"mark":{"type":"line","strokeWidth":1.2,"color":"#5f5f5f"},
  "encoding":{"x":{"field":"v","type":"quantitative"},"y":{"field":"age","type":"quantitative"},"order":{"field":"age","type":"quantitative"}}},
 {"data":{"name":"one"},"mark":{"type":"text","text":"f)","fontSize":18},"encoding":{"x":{"datum":-4.84},"y":{"datum":0.47}}},
 {"data":{"name":"one"},"mark":{"type":"rule","color":"#222","strokeWidth":1},"encoding":{"x":{"datum":7.2},"x2":{"datum":49.2},"y":{"datum":11.26}}},
 {"data":{"name":"one"},"mark":{"type":"point","shape":"triangle-left","filled":true,"size":20,"color":"#222","opacity":1},"encoding":{"x":{"datum":7.2},"y":{"datum":11.26}}},
 {"data":{"name":"one"},"mark":{"type":"point","shape":"triangle-right","filled":true,"size":20,"color":"#222","opacity":1},"encoding":{"x":{"datum":49.2},"y":{"datum":11.26}}},
 {"data":{"name":"one"},"mark":{"type":"text","text":"-","fontWeight":"bold"},"encoding":{"x":{"datum":3.7},"y":{"datum":11.26}}},
 {"data":{"name":"one"},"mark":{"type":"text","text":"+","fontWeight":"bold"},"encoding":{"x":{"datum":51.2},"y":{"datum":11.26}}},
 {"data":{"name":"one"},"mark":{"type":"text","text":"Terrestrial input","fontSize":16,"fontStyle":"italic","color":"#333"},"encoding":{"x":{"datum":29.0},"y":{"datum":11.75}}},
 {"data":{"name":"one"},"mark":{"type":"text","text":">63μm %","fontSize":16},"encoding":{"x":{"datum":30.4},"y":{"datum":12.57}}}
]},

{"layer":[
 {"data":{"name":"gar"},"mark":{"type":"line","strokeDash":[4,3],"strokeWidth":1,"color":"#a83535","opacity":0.8},
  "encoding":{"x":{"field":"v","type":"quantitative","scale":{"domain":[0,15],"range":[807,1010.3],"nice":false,"zero":false},"axis":{"orient":"top","values":[0,5,10,15],"labelExpr":"datum.value + ''","title":null}},
   "y":{"field":"age","type":"quantitative"},"order":{"field":"age","type":"quantitative"}}},
 {"data":{"name":"gars"},"mark":{"type":"line","strokeWidth":1.2,"color":"#9c1c1c"},
  "encoding":{"x":{"field":"v","type":"quantitative"},"y":{"field":"age","type":"quantitative"},"order":{"field":"age","type":"quantitative"}}},
 {"data":{"name":"gar"},"mark":{"type":"point","filled":true,"size":20,"color":"#9c1c1c","opacity":1},
  "encoding":{"x":{"field":"v","type":"quantitative"},"y":{"field":"age","type":"quantitative"}}},
 {"data":{"name":"one"},"mark":{"type":"text","text":"g)","fontSize":18},"encoding":{"x":{"datum":0.86},"y":{"datum":0.47}}},
 {"data":{"name":"one"},"mark":{"type":"text","text":"Garnet %","fontSize":16},"encoding":{"x":{"datum":7.37},"y":{"datum":-2.8}}},
 {"data":{"name":"one"},"mark":{"type":"text","text":"Terrestrial input","fontSize":16,"fontStyle":"italic","color":"#333"},"encoding":{"x":{"datum":7.37},"y":{"datum":-1.85}}},
 {"data":{"name":"one"},"mark":{"type":"rule","color":"#222","strokeWidth":1},"encoding":{"x":{"datum":1.05},"x2":{"datum":13.4},"y":{"datum":-1.13}}},
 {"data":{"name":"one"},"mark":{"type":"point","shape":"triangle-left","filled":true,"size":20,"color":"#222","opacity":1},"encoding":{"x":{"datum":1.05},"y":{"datum":-1.13}}},
 {"data":{"name":"one"},"mark":{"type":"point","shape":"triangle-right","filled":true,"size":20,"color":"#222","opacity":1},"encoding":{"x":{"datum":13.4},"y":{"datum":-1.13}}},
 {"data":{"name":"one"},"mark":{"type":"text","text":"-","fontWeight":"bold"},"encoding":{"x":{"datum":0.07},"y":{"datum":-1.13}}},
 {"data":{"name":"one"},"mark":{"type":"text","text":"+","fontWeight":"bold"},"encoding":{"x":{"datum":13.96},"y":{"datum":-1.13}}},
 {"data":{"name":"zlab"},"mark":{"type":"text","angle":90,"fontSize":16},"encoding":{"text":{"field":"name"},"x":{"datum":15.75},"y":{"field":"mid","type":"quantitative"}}},
 {"data":{"name":"slab"},"mark":{"type":"text","angle":90,"fontSize":16,"fontStyle":"italic"},"encoding":{"text":{"field":"name"},"x":{"datum":14.1},"y":{"field":"mid","type":"quantitative"}}}
]}
]
}
